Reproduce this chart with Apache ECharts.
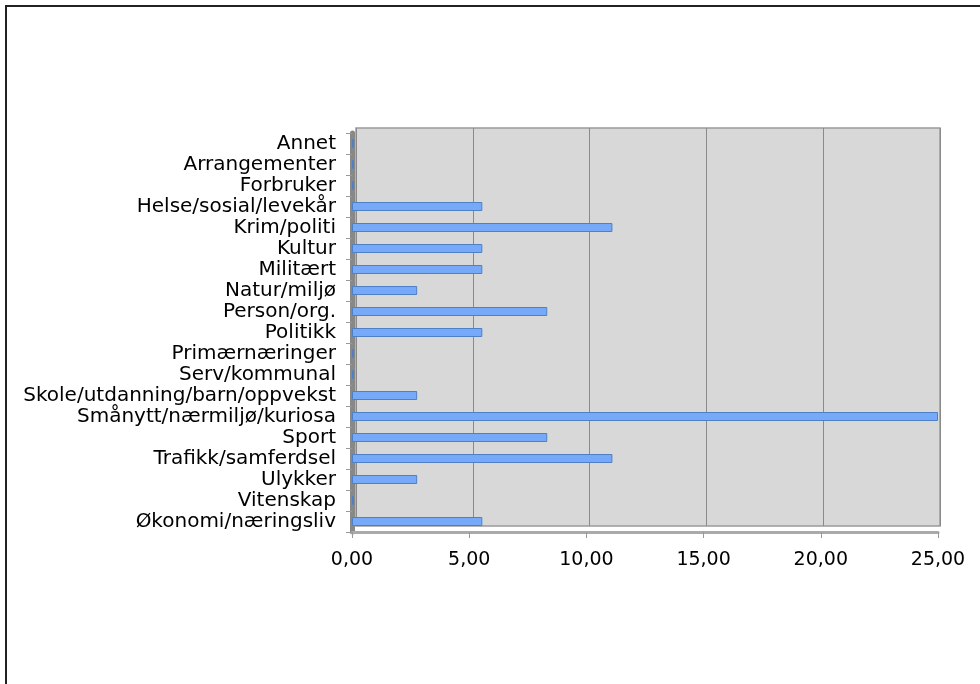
<!DOCTYPE html>
<html><head><meta charset="utf-8">
<script src="https://cdn.jsdelivr.net/npm/echarts@6/dist/echarts.min.js"></script>
<style>html,body{margin:0;padding:0;background:#fff}#c{width:980px;height:684px}</style>
</head><body><div id="c"></div>
<script>
const categories = ["Annet","Arrangementer","Forbruker","Helse/sosial/levekår","Krim/politi","Kultur","Militært","Natur/miljø","Person/org.","Politikk","Primærnæringer","Serv/kommunal","Skole/utdanning/barn/oppvekst","Smånytt/nærmiljø/kuriosa","Sport","Trafikk/samferdsel","Ulykker","Vitenskap","Økonomi/næringsliv"];
const values = [0,0,0,5.56,11.11,5.56,5.56,2.78,8.33,5.56,0,0,2.78,25,8.33,11.11,2.78,0,5.56];
const xTicks = {min:0, max:25, interval:5};

const chart = echarts.init(document.getElementById('c'));
const fmt = v => v.toFixed(2).replace('.', ',');
chart.setOption({
  animation:false,
  textStyle:{fontFamily:'DejaVu Sans'},
  graphic:[{type:'rect', shape:{x:6,y:6,width:1000,height:700}, style:{fill:'none', stroke:'#222', lineWidth:2}, z:100}],
  grid:[
    {left:352, right:42, top:133, bottom:152},
    {left:356, right:40, top:128, bottom:158, show:true, backgroundColor:'#d8d8d8', borderColor:'#9a9a9a', borderWidth:1.5, z:0}
  ],
  xAxis:[
    {gridIndex:0, type:'value', min:xTicks.min, max:xTicks.max, interval:xTicks.interval,
     axisLine:{show:true, lineStyle:{color:'#aaa', width:3}}, axisTick:{show:true, length:6, lineStyle:{color:'#999'}},
     splitLine:{show:false},
     axisLabel:{formatter:fmt, color:'#000', fontSize:19, margin:19, fontFamily:'DejaVu Sans'}},
    {gridIndex:1, type:'value', min:xTicks.min, max:xTicks.max, interval:xTicks.interval,
     axisLine:{show:false}, axisTick:{show:false}, axisLabel:{show:false},
     splitLine:{show:true, lineStyle:{color:'#8a8a8a', width:1}}}
  ],
  yAxis:[
    {gridIndex:0, type:'category', data:categories, inverse:true,
     axisLine:{show:true, lineStyle:{color:'#888', width:5}}, axisTick:{show:true, length:6, interval:0, lineStyle:{color:'#999', width:1}},
     axisLabel:{color:'#000', fontSize:20, margin:16, interval:0, fontFamily:'DejaVu Sans', lineHeight:20, padding:[6,0,0,0]}},
    {gridIndex:1, type:'category', data:categories, inverse:true, show:false}
  ],
  series:[{
    type:'bar', xAxisIndex:0, yAxisIndex:0, data:values, barWidth:9, barMinHeight:2,
    itemStyle:{color:'#76aaf8', borderColor:'#4f7fc4', borderWidth:1},
    z:5
  }]
});
</script></body></html>
